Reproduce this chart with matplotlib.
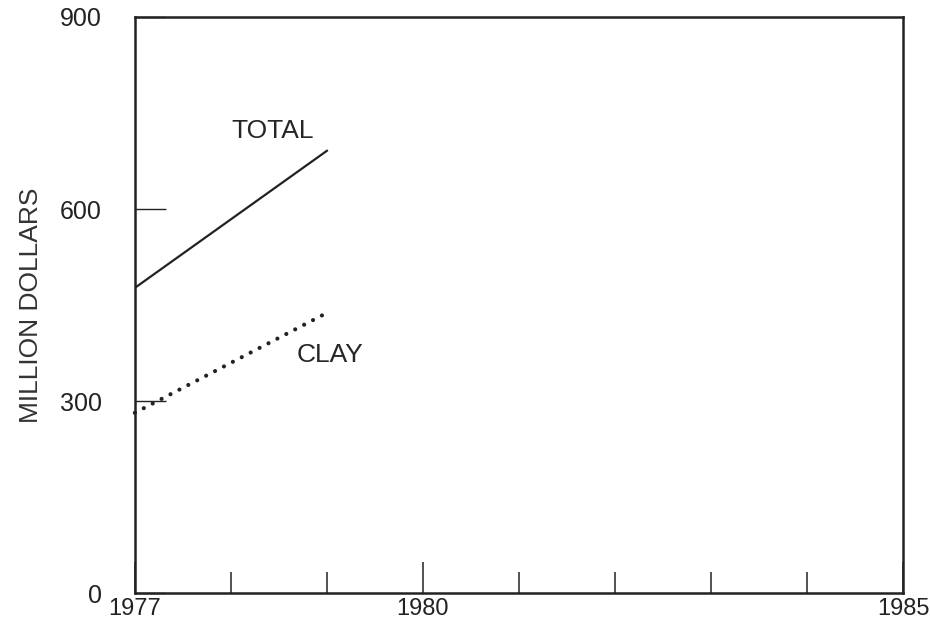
import matplotlib.pyplot as plt
from matplotlib.ticker import FixedLocator, NullFormatter

plt.rcParams['font.family'] = ['Liberation Sans', 'DejaVu Sans']

years = [1977, 1978, 1979]
total = [477, 584, 691]
clay = [282, 360, 438]

x_labels = ['1977', '1980', '1985']
x_major = [1977, 1980, 1985]
x_minor = [1978, 1979, 1981, 1982, 1983, 1984]
y_ticks = [0, 300, 600, 900]

fig = plt.figure(figsize=(9.3, 6.26), dpi=100)
ax = fig.add_axes([0.145, 0.052, 0.826, 0.921])

ax.plot(years, total, color='#222222', linewidth=1.6)
# dotted line: tiny dashes with round caps give round dots
ax.plot(years, clay, color='#222222', linewidth=3.0,
        linestyle=(0, (0.01, 2.4)), dash_capstyle='round', clip_on=False)

ax.text(1978.43, 722, 'TOTAL', fontsize=19, color='#262626', ha='center', va='center')
ax.text(1979.03, 372, 'CLAY', fontsize=19, color='#262626', ha='center', va='center')

ax.set_xlim(1977, 1985)
ax.set_ylim(0, 900)

ax.xaxis.set_major_locator(FixedLocator(x_major))
ax.set_xticklabels(x_labels)
ax.xaxis.set_minor_locator(FixedLocator(x_minor))
ax.xaxis.set_minor_formatter(NullFormatter())
ax.set_yticks(y_ticks)

ax.tick_params(axis='x', which='major', direction='in', length=22, width=1.1,
               pad=3, labelsize=17, colors='#222222')
ax.tick_params(axis='x', which='minor', direction='in', length=15, width=1.1,
               colors='#222222')
ax.tick_params(axis='y', direction='in', length=22, width=1.0,
               pad=24, labelsize=18, colors='#222222')

for s in ax.spines.values():
    s.set_linewidth(1.8)
    s.set_color('#222222')

ax.set_ylabel('MILLION DOLLARS', fontsize=19, color='#333333', labelpad=12)

fig.savefig('out.png', dpi=100)
